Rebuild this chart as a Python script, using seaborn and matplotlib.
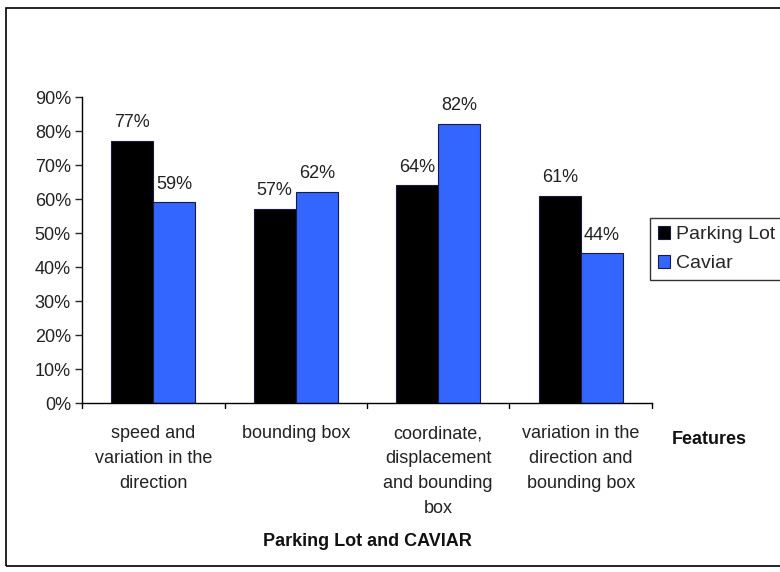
import matplotlib
matplotlib.use("Agg")
import matplotlib.pyplot as plt
import seaborn as sns
import pandas as pd
from matplotlib.patches import Rectangle

categories = ["speed and\nvariation in the\ndirection", "bounding box",
              "coordinate,\ndisplacement\nand bounding\nbox",
              "variation in the\ndirection and\nbounding box"]
parking_lot = [0.77, 0.57, 0.64, 0.61]
caviar = [0.59, 0.62, 0.82, 0.44]
series_names = ["Parking Lot", "Caviar"]
yticks = [0, 0.1, 0.2, 0.3, 0.4, 0.5, 0.6, 0.7, 0.8, 0.9]

df = pd.DataFrame({
    "cat": categories * 2,
    "value": parking_lot + caviar,
    "series": [series_names[0]] * 4 + [series_names[1]] * 4,
})

sns.set_style("white")
plt.rcParams["font.family"] = ["Liberation Sans", "DejaVu Sans"]

fig = plt.figure(figsize=(7.8, 5.72), dpi=100)
ax = fig.add_axes([82/780, 1-403/572, (652-82)/780, (403-97)/572])

sns.barplot(data=df, x="cat", y="value", hue="series", ax=ax,
            palette={"Parking Lot": "#000000", "Caviar": "#3366FF"},
            width=0.59, edgecolor="#1a1a40", linewidth=0.8, saturation=1)

for cont in ax.containers:
    ax.bar_label(cont, labels=[f"{v*100:.0f}%" for v in cont.datavalues],
                 padding=7, fontsize=13, color="#222222")

ax.set_ylim(0, 0.9)
ax.set_xlim(-0.5, 3.5)
ax.set_yticks(yticks)
ax.set_yticklabels([f"{int(round(t*100))}%" for t in yticks], fontsize=13,
                   color="#222222")
ax.set_xticks([0, 1, 2, 3])
ax.set_xticklabels(categories, fontsize=13, linespacing=1.62, color="#222222")
ax.tick_params(axis="x", length=0, pad=16)
ax.tick_params(axis="y", length=5, direction="out", left=True, width=1, pad=3)
for b in [-0.5, 0.5, 1.5, 2.5, 3.5]:
    ax.plot([b, b], [0, -0.015], color="black", lw=1, clip_on=False,
            transform=ax.transData)
ax.set_xlabel("")
ax.set_ylabel("")
for s in ["top", "right"]:
    ax.spines[s].set_visible(False)
for s in ["left", "bottom"]:
    ax.spines[s].set_color("black")
    ax.spines[s].set_linewidth(1)

leg = ax.legend(loc="upper left", bbox_to_anchor=(650/780, 1-218/572),
                bbox_transform=fig.transFigure, fontsize=14, frameon=True,
                fancybox=False, edgecolor="black", handlelength=0.65,
                handleheight=0.65, handletextpad=0.3, borderpad=0.4,
                labelspacing=0.6, borderaxespad=0)
leg.get_frame().set_linewidth(1)

fig.text(672/780, 1-439/572, "Features", fontsize=13, fontweight="bold",
         ha="left", va="center", color="#111111")
fig.text(367/780, 1-541/572, "Parking Lot and CAVIAR", fontsize=13,
         fontweight="bold", ha="center", va="center", color="#111111")

fig.patches.append(Rectangle((6/780, 1-566/572), 1.0, (566-8)/572,
                             transform=fig.transFigure, fill=False,
                             edgecolor="black", lw=1.2))

fig.savefig("out.png", dpi=100)
